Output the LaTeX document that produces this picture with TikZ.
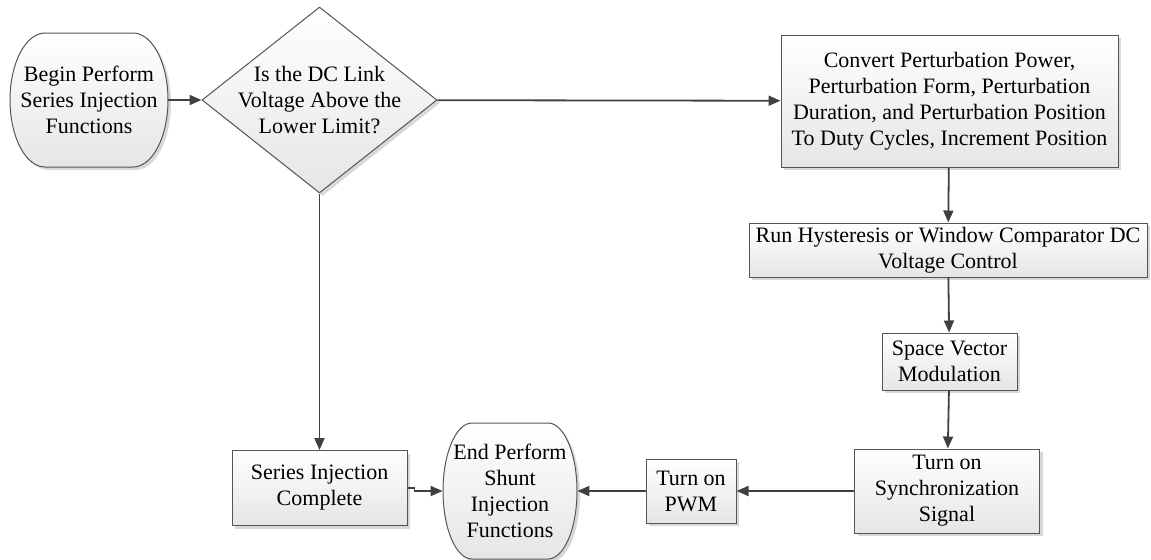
\documentclass[tikz,border=0pt]{standalone}
\usepackage{fontspec}
\setmainfont{Liberation Serif}
\usetikzlibrary{shapes.geometric,arrows.meta,shadows}
\definecolor{linegray}{HTML}{404040}
\definecolor{edgegray}{HTML}{555555}
\begin{document}
\begin{tikzpicture}[x=0.5pt,y=-0.5pt,
        font=\fontsize{11}{13}\selectfont,
        shade/.style={draw=edgegray, line width=0.5pt, top color=white, bottom color=black!10,
            drop shadow={shadow xshift=1.5pt, shadow yshift=-1.5pt, fill=black!30}},
        block/.style={shade, align=center, inner sep=1pt},
        term/.style={align=center, inner sep=0pt},
        flow/.style={draw=linegray, line width=0.9pt, -{Triangle[length=6pt,width=5pt]}}]
    \useasboundingbox (0,0) rectangle (1151,559);

    % terminals: flat top and bottom, half ellipses at the sides
    \path[shade] (89,100) ++(-22pt,33.5pt) -- ++(44pt,0)
        arc[start angle=90, end angle=-90, x radius=17.5pt, y radius=33.5pt] -- ++(-44pt,0)
        arc[start angle=270, end angle=90, x radius=17.5pt, y radius=33.5pt] -- cycle;
    \path[shade] (510,491) ++(-19pt,34pt) -- ++(38pt,0)
        arc[start angle=90, end angle=-90, x radius=14.5pt, y radius=34pt] -- ++(-38pt,0)
        arc[start angle=270, end angle=90, x radius=14.5pt, y radius=34pt] -- cycle;

    \node[term, minimum width=79pt, minimum height=67pt] (begin) at (89,100)
        {Begin Perform\\Series Injection\\Functions};
    \node[block, diamond, aspect=1.26, inner sep=-2.5pt, minimum width=117.5pt, minimum height=93pt] (dec) at (319.5,100)
        {Is the DC Link\\Voltage Above the\\Lower Limit?};
    \node[block, minimum width=168.5pt, minimum height=66pt] (conv) at (949.5,101)
        {Convert Perturbation Power,\\Perturbation Form, Perturbation\\Duration, and Perturbation Position\\To Duty Cycles, Increment Position};
    \node[block, minimum width=199pt, minimum height=27pt] (run) at (948,250)
        {Run Hysteresis or Window Comparator DC\\Voltage Control};
    \node[block, minimum width=67.5pt, minimum height=28.5pt] (svm) at (949.5,361.5)
        {Space Vector\\Modulation};
    \node[block, minimum width=92.5pt, minimum height=42pt] (sync) at (947,491)
        {Turn on\\Synchronization\\Signal};
    \node[block, minimum width=45pt, minimum height=32pt] (pwm) at (691,491)
        {Turn on\\PWM};
    \node[term, minimum width=67pt, minimum height=68pt] (end) at (510,491)
        {End Perform\\Shunt\\Injection\\Functions};
    \node[block, minimum width=87.5pt, minimum height=37.5pt] (sic) at (319.5,488)
        {Series Injection\\Complete};

    \draw[flow] (begin) -- (dec);
    \draw[flow] (dec) -- (conv);
    \draw[flow] (conv) -- (run);
    \draw[flow] (run) -- (svm);
    \draw[flow] (svm) -- (sync);
    \draw[flow] (sync) -- (pwm);
    \draw[flow] (pwm) -- (end);
    \draw[flow] (dec.south) -- (sic.north);
    \draw[flow] (sic.east) -- ++(7,0) |- (end.west);
\end{tikzpicture}
\end{document}
